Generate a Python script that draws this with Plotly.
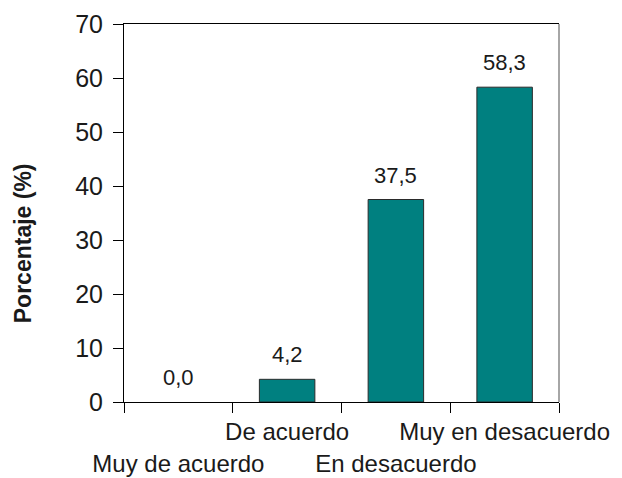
import plotly.graph_objects as go

# categorias y porcentajes
categorias = ['Muy de acuerdo', 'De acuerdo', 'En desacuerdo', 'Muy en desacuerdo']
porcentajes = [0.0, 4.2, 37.5, 58.3]
# etiquetas escalonadas: fila de arriba / fila de abajo
fila_arriba = ['', 'De acuerdo', '', 'Muy en desacuerdo']
fila_abajo = ['Muy de acuerdo', '', 'En desacuerdo', '']
y_ticks = [0, 10, 20, 30, 40, 50, 60, 70]

fig = go.Figure()
fig.add_trace(go.Bar(
    x=categorias,
    y=porcentajes,
    width=0.51,
    marker=dict(color='#008080',
                line=dict(color='#2a2a2a', width=[0 if v == 0 else 1 for v in porcentajes])),
    cliponaxis=False,
))

# valores encima de las barras
for c, v in zip(categorias, porcentajes):
    fig.add_annotation(x=c, y=v, text=f'{v:.1f}'.replace('.', ','),
                       showarrow=False, yanchor='bottom', yshift=10,
                       font=dict(size=22, color='#1a1a1a'))

# titulo del eje y
fig.add_annotation(xref='paper', yref='paper', x=0, y=0.42, xshift=-101,
                   text='<b>Porcentaje (%)</b>', textangle=-90, showarrow=False,
                   xanchor='center', yanchor='middle',
                   font=dict(size=23, color='#1a1a1a'))

fig.update_layout(
    width=622, height=478,
    margin=dict(l=124, r=63, t=24, b=76),
    plot_bgcolor='white', paper_bgcolor='white',
    font=dict(family='Liberation Sans, Arial, sans-serif', color='#1a1a1a'),
    showlegend=False,
)

fig.update_layout(
    xaxis=dict(
        type='category',
        tickvals=categorias,
        ticktext=fila_arriba,
        tickson='boundaries',
        tickangle=0,
        automargin=False,
        ticks='outside', ticklen=10, tickcolor='black',
        ticklabelstandoff=8,
        showline=True, linecolor='black', linewidth=1,
        mirror=True,
        showgrid=False,
        tickfont=dict(size=24),
    ),
    xaxis2=dict(
        type='category',
        overlaying='x',
        matches='x',
        side='bottom',
        tickvals=categorias,
        ticktext=fila_abajo,
        tickangle=0,
        automargin=False,
        ticks='outside', ticklen=10, tickcolor='rgba(0,0,0,0)',
        ticklabelstandoff=30,
        showline=False,
        showgrid=False,
        tickfont=dict(size=24),
    ),
    yaxis=dict(
        range=[0, 70],
        tickvals=y_ticks,
        automargin=False,
        ticks='outside', ticklen=10, tickcolor='black',
        ticklabelstandoff=5,
        showline=True, linecolor='black', linewidth=1,
        showgrid=False, zeroline=False,
        tickfont=dict(size=25),
    ),
)

# traza invisible para activar el segundo eje x
fig.add_trace(go.Bar(x=categorias, y=porcentajes, xaxis='x2', opacity=0,
                     hoverinfo='skip', showlegend=False))

# borde derecho gris
fig.add_shape(type='line', xref='paper', yref='paper', x0=1, x1=1, y0=0, y1=1,
              line=dict(color='#888888', width=1.5))

# sin margen del body para que la figura ocupe toda la ventana
fig.write_html('out.html', config={'displayModeBar': False},
               post_script="document.body.style.margin='0';")
